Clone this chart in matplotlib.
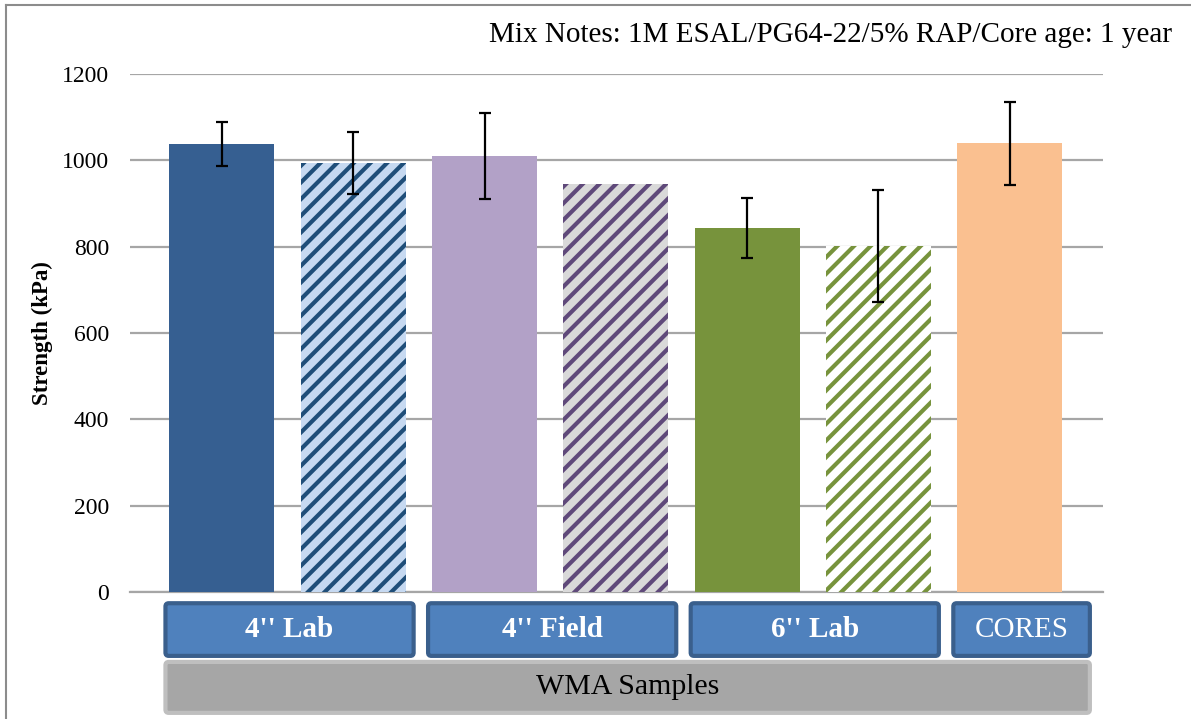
import numpy as np
import matplotlib
matplotlib.use("Agg")
import matplotlib.pyplot as plt
from matplotlib.patches import FancyBboxPatch
from matplotlib.lines import Line2D

# Strength of each sample set (kPa) with standard deviation
samples = ["4in Lab A", "4in Lab B", "4in Field A", "4in Field B",
           "6in Lab A", "6in Lab B", "Cores"]
strength = [1038, 994, 1010, 945, 843, 801, 1040]
std_dev = [51, 71, 100, 0, 70, 130, 96]

face_colors = ["#365F91", "#C6D9F1", "#B2A1C7", "#D9D9D9", "#77933C", "#FFFFFF", "#FAC090"]
stripe_colors = ["#365F91", "#1F4E79", "#B2A1C7", "#5F497A", "#77933C", "#77933C", "#FAC090"]
hatches = [None, "//", None, "//", None, "//", None]

groups = ["4'' Lab", "4'' Field", "6'' Lab", "CORES"]
group_bold = [True, True, True, False]
group_edges = [-0.5, 1.5, 3.5, 5.5, 6.65]
super_group = "WMA Samples"
note = "Mix Notes: 1M ESAL/PG64-22/5% RAP/Core age: 1 year"
yticks = [0, 200, 400, 600, 800, 1000, 1200]

plt.rcParams["font.family"] = ["Liberation Serif", "DejaVu Serif"]
plt.rcParams["hatch.linewidth"] = 3.0

W, H = 1191, 719
fig = plt.figure(figsize=(W / 100, H / 100), dpi=100)
ax = fig.add_axes([130 / W, 1 - 592 / H, 973 / W, 518 / H])

x = np.arange(len(strength))
for i in range(len(strength)):
    ax.bar(x[i], strength[i], width=0.8, color=face_colors[i],
           edgecolor=stripe_colors[i], linewidth=0, hatch=hatches[i], zorder=3)
    if std_dev[i] > 0:
        ax.errorbar(x[i], strength[i], yerr=std_dev[i], fmt="none", ecolor="black",
                    elinewidth=1.6, capsize=4.5, capthick=1.6, zorder=4)

ax.set_xlim(-0.70, 6.71)
ax.set_ylim(0, 1200)
ax.set_yticks(yticks)
ax.set_yticklabels([str(v) for v in yticks], fontsize=17)
ax.set_xticks([])
ax.tick_params(axis="y", length=0, pad=15)
ax.grid(axis="y", color="#A6A6A6", linewidth=1.6, zorder=0)
for side in ["top", "right", "left"]:
    ax.spines[side].set_visible(False)
ax.spines["bottom"].set_color("#A6A6A6")
ax.spines["bottom"].set_linewidth(1.6)

# category boxes under the axis
aspect = (1200 / 518) / (7.41 / 973)
for i, name in enumerate(groups):
    x0 = group_edges[i] + 0.07
    x1 = group_edges[i + 1] - 0.04
    box = FancyBboxPatch((x0, -148), x1 - x0, 122,
                         boxstyle="round,pad=0,rounding_size=0.025",
                         mutation_aspect=aspect, transform=ax.transData,
                         facecolor="#4F81BD", edgecolor="#3A5F8C", linewidth=3,
                         clip_on=False, zorder=5)
    ax.add_patch(box)
    ax.text((x0 + x1) / 2, -87, name, ha="center", va="center", color="white",
            fontsize=21, fontweight="bold" if group_bold[i] else "normal",
            clip_on=False, zorder=6)

x0 = group_edges[0] + 0.07
x1 = group_edges[-1] - 0.04
box = FancyBboxPatch((x0, -280), x1 - x0, 118,
                     boxstyle="round,pad=0,rounding_size=0.025",
                     mutation_aspect=aspect, transform=ax.transData,
                     facecolor="#A6A6A6", edgecolor="#BFBFBF", linewidth=3,
                     clip_on=False, zorder=5)
ax.add_patch(box)
ax.text((x0 + x1) / 2, -221, super_group, ha="center", va="center", color="black",
        fontsize=21.5, clip_on=False, zorder=6)

fig.text(42 / W, 1 - 333 / H, "Strength (kPa)", rotation=90, ha="center",
         va="center", fontsize=16.5, fontweight="bold")
fig.text(1172 / W, 1 - 42 / H, note, ha="right", va="baseline", fontsize=21)

# chart frame (left and top edges visible)
fig.add_artist(Line2D([5.5 / W, 5.5 / W], [0, 1 - 5 / H], color="#8C8C8C",
                      linewidth=1.5, transform=fig.transFigure))
fig.add_artist(Line2D([5.5 / W, 1], [1 - 5 / H, 1 - 5 / H], color="#8C8C8C",
                      linewidth=1.5, transform=fig.transFigure))

fig.savefig("out.png", dpi=100)
